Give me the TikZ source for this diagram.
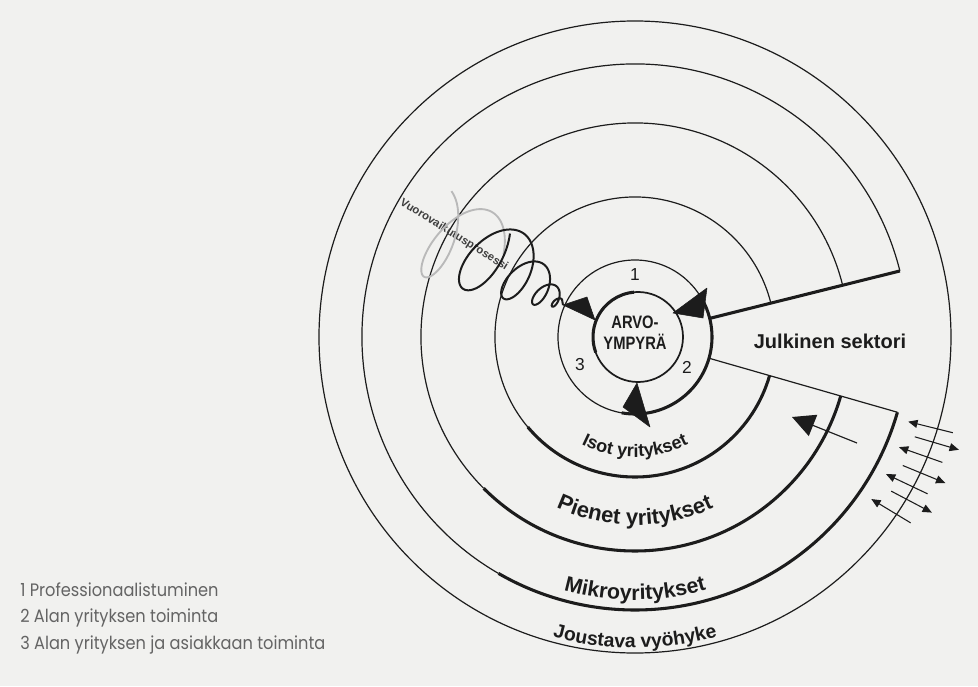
\documentclass[tikz,border=0pt]{standalone}
\usepackage{fontspec}
\setmainfont{Liberation Sans}
\newfontfamily\condfont[FakeStretch=0.82]{Liberation Sans}
\newfontfamily\legfont[FakeStretch=0.9]{Poppins}
\usetikzlibrary{arrows.meta,calc,decorations.text}
\definecolor{bg}{RGB}{241,241,239}
\definecolor{ink}{RGB}{28,28,28}
\definecolor{legc}{RGB}{100,100,100}
\begin{document}
\begin{tikzpicture}[x=0.75pt,y=0.75pt,
  thinl/.style={draw=ink,line width=0.9pt},
  thickl/.style={draw=ink,line width=2.3pt},
  lbl/.style={font=\bfseries\fontsize{15}{18}\selectfont,text=ink},
  num/.style={font=\fontsize{13}{15}\selectfont,text=ink},
  leg/.style={font=\legfont\fontsize{13.5}{16}\selectfont,text=legc,anchor=west,inner sep=0pt},
  tri/.style={fill=ink,draw=ink,line width=0.4pt,line join=round},
  smallarr/.style={draw=ink,line width=0.8pt,-{Triangle[length=7pt,width=6pt]}},
  bigarr/.style={draw=ink,line width=0.9pt,-{Triangle[length=17pt,width=17pt]}},
]
\fill[bg] (-635,-349) rectangle (343,337);
\useasboundingbox (-635,-349) rectangle (343,337);
\coordinate (C) at (0,0);

% outer circle
\draw[thinl] (C) circle[radius=316];
% circle 5
\draw[thinl] (14:273) arc[start angle=14,end angle=240,radius=273];
\draw[thickl] (240:273) arc[start angle=240,end angle=344,radius=273];
% circle 4
\draw[thinl] (14:214) arc[start angle=14,end angle=225,radius=214];
\draw[thickl] (225:214) arc[start angle=225,end angle=344,radius=214];
% circle 3
\draw[thinl] (14:140) arc[start angle=14,end angle=220,radius=140];
\draw[thickl] (220:140) arc[start angle=220,end angle=344,radius=140];
% circle 2
\draw[thinl] (C) circle[radius=77];
\draw[thickl] (-100:77) arc[start angle=-100,end angle=34,radius=77];
% inner circle
\coordinate (I) at (3,0);
\draw[draw=ink,line width=1.3pt] (I) circle[radius=45];
\draw[thickl] ($(I)+(95:45)$) arc[start angle=95,end angle=200,radius=45];

% sector edges
\coordinate (su1) at (14:77);
\coordinate (su2) at (14:273);
\coordinate (sl1) at (-16:77);
\coordinate (sl2) at (-16:273);
\draw[thickl] (su1) -- (su2);
\draw[thinl] (sl1) -- (sl2);

% triangles at value circle
\fill[tri] (-72,32) -- (-48,40) -- (-40,17) -- cycle;
\fill[tri] (72,49) -- (38,24) -- (68,19) -- cycle;
\fill[tri] (2,-46) -- (-12,-70) -- (15,-90) -- cycle;

% spring text
\node[font=\bfseries\fontsize{8.5}{10}\selectfont,text=ink!85,rotate=-32] (vp) at (-181,102) {Vuorovaikutusprosessi};

% spring
\begin{scope}[shift={(-72,32)},rotate=150]
\draw[gray!55,line width=1.4pt] plot[domain=3.8:4.95,samples=160,variable=\t] ({4+6*\t+5.5*\t*\t-8+0.5*min(4+11.5*\t,45)*cos(360*\t-90)},{min(4+11.5*\t,45)*sin(360*\t-90)});
\end{scope}
\begin{scope}[shift={(-72,32)},rotate=145]
\draw[ink,line width=1.5pt,line join=round] (0,0) -- plot[domain=0:3.85,samples=500,variable=\t] ({4+6*\t+5.5*\t*\t+0.58*(4+6*\t+1.55*\t*\t)*cos(360*\t-90)},{(4+6*\t+1.55*\t*\t)*sin(360*\t-90)});
\end{scope}

% labels
\node[font=\condfont\bfseries\fontsize{13.5}{17}\selectfont,text=ink,align=center] (arvo) at (0,4) {ARVO-\\[-1pt]YMPYRÄ};
\node[num] (n1) at (0,62) {1};
\node[num] (n2) at (52,-30) {2};
\node[num] (n3) at (-55,-28) {3};
\node[lbl] (js) at (195,-4) {Julkinen sektori};

\path[decorate,decoration={text along path,text align=center,text={|\bfseries\fontsize{13.5}{16}\selectfont\color{ink}|Isot yritykset}}] (-140:120) arc[start angle=-140,end angle=-40,radius=120];
\path[decorate,decoration={text along path,text align=center,text={|\bfseries\fontsize{16.5}{19}\selectfont\color{ink}|Pienet yritykset}}] (-140:188) arc[start angle=-140,end angle=-40,radius=188];
\path[decorate,decoration={text along path,text align=center,text={|\bfseries\fontsize{16}{19}\selectfont\color{ink}|Mikroyritykset}}] (-140:263) arc[start angle=-140,end angle=-40,radius=263];
\path[decorate,decoration={text along path,text align=center,text={|\bfseries\fontsize{14.5}{17}\selectfont\color{ink}|Joustava vyöhyke}}] (-130:311) arc[start angle=-130,end angle=-50,radius=311];

% big arrow
\coordinate (ba1) at (222,-106);
\coordinate (ba2) at (157,-80);
\draw[bigarr] (ba1) -- (ba2);

% small arrows across outer circle
\foreach \t/\r/\d in {-16.97/309/-1,-19.4/320/1,-22.4/309/-1,-25.4/320/1,-28.4/309/-1,-30.8/322/1,-34.2/309.5/-1}{
  \draw[smallarr] ($(\t:\r)-\d*(\t+3:23)$) -- ($(\t:\r)+\d*(\t+3:23)$);
}

% legend
\node[leg] (l1) at (-615,-253) {1 Professionaalistuminen};
\node[leg] (l2) at (-615,-281) {2 Alan yrityksen toiminta};
\node[leg] (l3) at (-615,-308) {3 Alan yrityksen ja asiakkaan toiminta};
\end{tikzpicture}
\end{document}
